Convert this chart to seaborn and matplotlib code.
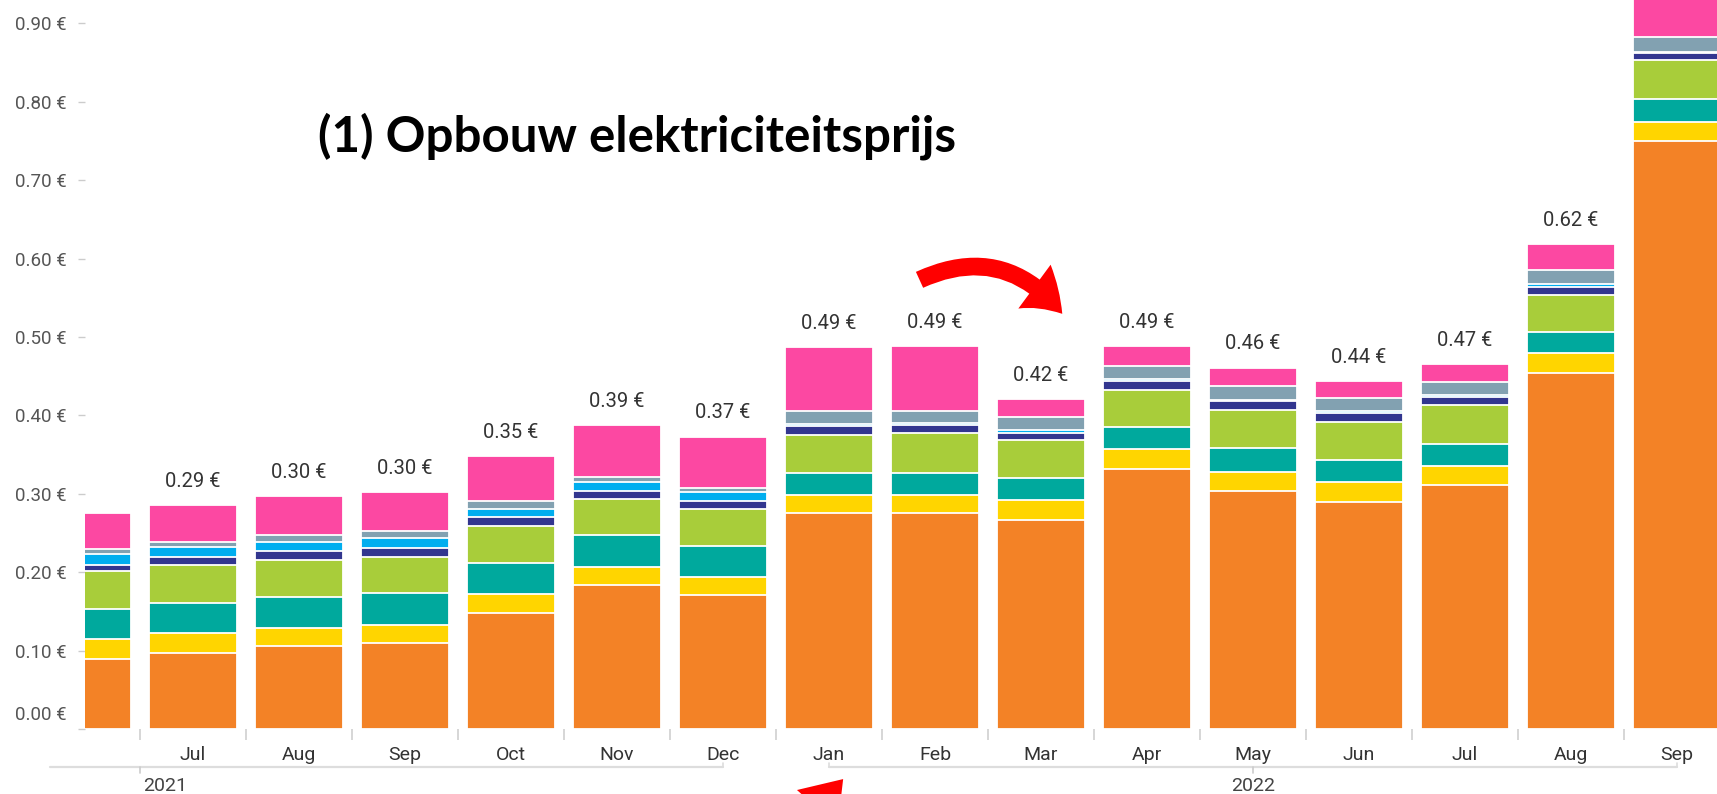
import numpy as np
import pandas as pd
import seaborn as sns
import matplotlib.pyplot as plt
from matplotlib.patches import FancyArrowPatch
from matplotlib.transforms import ScaledTranslation

# one bar per month, Jun 2021 .. Sep 2022
periods = ['2021-06', '2021-07', '2021-08', '2021-09', '2021-10', '2021-11', '2021-12',
           '2022-01', '2022-02', '2022-03', '2022-04', '2022-05', '2022-06', '2022-07',
           '2022-08', '2022-09']
months = ['', 'Jul', 'Aug', 'Sep', 'Oct', 'Nov', 'Dec',
          'Jan', 'Feb', 'Mar', 'Apr', 'May', 'Jun', 'Jul', 'Aug', 'Sep']

# price components (EUR/kWh), bottom to top
orange = [0.089, 0.097, 0.106, 0.110, 0.148, 0.184, 0.171, 0.275, 0.275, 0.267, 0.332, 0.304, 0.289, 0.311, 0.454, 0.750]
yellow = [0.026, 0.026, 0.023, 0.023, 0.024, 0.023, 0.023, 0.023, 0.023, 0.025, 0.025, 0.024, 0.026, 0.025, 0.025, 0.024]
teal = [0.038, 0.038, 0.040, 0.040, 0.040, 0.040, 0.040, 0.028, 0.028, 0.028, 0.028, 0.030, 0.028, 0.028, 0.027, 0.030]
lime = [0.049, 0.048, 0.047, 0.047, 0.047, 0.046, 0.046, 0.049, 0.051, 0.049, 0.048, 0.049, 0.049, 0.049, 0.048, 0.049]
navy = [0.007, 0.011, 0.011, 0.011, 0.011, 0.011, 0.011, 0.011, 0.011, 0.009, 0.011, 0.011, 0.011, 0.011, 0.010, 0.009]
light_blue = [0.014, 0.012, 0.012, 0.013, 0.011, 0.011, 0.011, 0.003, 0.002, 0.003, 0.002, 0.002, 0.002, 0.002, 0.003, 0.002]
grey = [0.007, 0.007, 0.009, 0.009, 0.010, 0.006, 0.006, 0.016, 0.016, 0.017, 0.017, 0.017, 0.017, 0.017, 0.019, 0.019]
pink = [0.045, 0.047, 0.049, 0.049, 0.057, 0.067, 0.065, 0.082, 0.082, 0.023, 0.026, 0.024, 0.022, 0.023, 0.032, 0.070]

layer_names = ['orange', 'yellow', 'teal', 'lime', 'navy', 'light_blue', 'grey', 'pink']
layer_colors = ['#F38226', '#FFD500', '#00A99D', '#A8CD3A', '#32368F', '#00AEEF', '#82A1B1', '#FC48A2']

df = pd.DataFrame({'orange': orange, 'yellow': yellow, 'teal': teal, 'lime': lime,
                   'navy': navy, 'light_blue': light_blue, 'grey': grey, 'pink': pink},
                  index=periods)
cum = df[layer_names].cumsum(axis=1)
totals = cum['pink']

sns.set_theme(style='white')
plt.rcParams['font.family'] = ['Roboto', 'DejaVu Sans']

W, H = 1717, 794
fig = plt.figure(figsize=(W / 100, H / 100), dpi=100)
ax = fig.add_axes([85 / W, (H - 729) / H, (W - 85) / W, 729 / H])

# stacked bars: draw cumulative heights from the top layer downwards
for name, col in zip(layer_names[::-1], layer_colors[::-1]):
    sns.barplot(x=periods, y=cum[name].values, order=periods, color=col,
                saturation=1, width=0.83, edgecolor='white', linewidth=1.3,
                errorbar=None, ax=ax)

ax.set_xlim(-2 / 106, (W - 87) / 106)
ax.set_ylim(0, 729 / 784)
for s in ax.spines.values():
    s.set_visible(False)
ax.set_xlabel('')
ax.set_ylabel('')

# y axis
yticks = np.arange(0, 0.91, 0.1)
ax.set_yticks(yticks)
ax.set_yticklabels([f'{v:.2f} €' for v in yticks])
ax.tick_params(axis='y', length=5, width=1, color='#cccccc', pad=8,
               labelsize=13.5, labelcolor='#555555', left=True)
lab0 = ax.get_yticklabels()[0]
lab0.set_transform(lab0.get_transform() + ScaledTranslation(0, 0.16, fig.dpi_scale_trans))

# month labels and separators
ax.set_xticks(range(len(periods)))
ax.set_xticklabels(months)
ax.set_xticks(np.arange(0.5, len(periods) - 0.5, 1), minor=True)
ax.tick_params(axis='x', which='major', length=0, pad=12, labelsize=14, labelcolor='#333333')
ax.tick_params(axis='x', which='minor', length=8, width=1.2, color='#d0d0d0', bottom=True)

# value labels on top of the bars
for i, t in enumerate(totals):
    if i == 0 or t > 0.9:
        continue
    ax.annotate(f'{t:.2f} €', (i, t), xytext=(0, 17), textcoords='offset points',
                ha='center', va='center', fontsize=14.5, color='#333333')

# year rows
tr = ax.get_xaxis_transform()
yl = -38 / 729
ax.plot([-0.35, 6], [yl, yl], color='#dddddd', lw=1.6, transform=tr, clip_on=False)
ax.plot([0.5, 0.5], [yl, yl - 6 / 729], color='#cccccc', lw=1.2, transform=tr, clip_on=False)
ax.plot([6, 6], [yl, yl + 4 / 729], color='#dddddd', lw=1.2, transform=tr, clip_on=False)
ax.plot([7, 15], [yl, yl], color='#dddddd', lw=1.6, transform=tr, clip_on=False)
ax.plot([7, 7], [yl, yl + 4 / 729], color='#dddddd', lw=1.2, transform=tr, clip_on=False)
ax.plot([15, 15], [yl, yl + 4 / 729], color='#dddddd', lw=1.2, transform=tr, clip_on=False)
ax.plot([11, 11], [yl, yl - 6 / 729], color='#cccccc', lw=1.2, transform=tr, clip_on=False)
ax.text(0.53, -57 / 729, '2021', transform=tr, ha='left', va='center', fontsize=14, color='#444444')
ax.text(11, -57 / 729, '2022', transform=tr, ha='center', va='center', fontsize=14, color='#444444')

# title
fig.text(318 / W, 1 - 136 / H, '(1) Opbouw elektriciteitsprijs', fontsize=35.5,
         fontweight='bold', family='Lato', color='black', ha='left', va='center')

# red arrows
arrow_style = 'simple,head_length=1.0,head_width=1.4,tail_width=0.45'
arrow_top = FancyArrowPatch((917 / W, 1 - 281 / H), (1064 / W, 1 - 316 / H),
                            transform=fig.transFigure, connectionstyle='arc3,rad=-0.4',
                            arrowstyle=arrow_style, mutation_scale=28, color='#FF0000', lw=0)
fig.patches.append(arrow_top)
arrow_bot = FancyArrowPatch((780 / W, 1 - 850 / H), (845 / W, 1 - 777 / H),
                            transform=fig.transFigure,
                            arrowstyle=arrow_style, mutation_scale=28, color='#FF0000', lw=0)
fig.patches.append(arrow_bot)

fig.savefig('out.png', dpi=100)
